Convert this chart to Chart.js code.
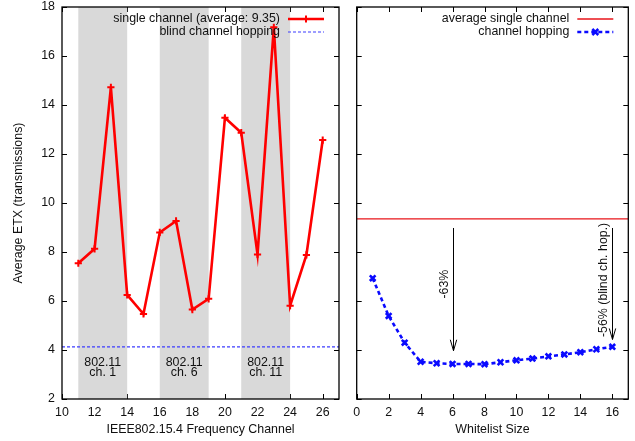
<!DOCTYPE html>
<html><head><meta charset="utf-8">
<script src="https://cdn.jsdelivr.net/npm/chart.js@4.4.0/dist/chart.umd.min.js"></script>
<style>
html,body{margin:0;padding:0;background:#fff;}
#wrap{position:relative;width:635px;height:441px;overflow:hidden;background:#fff;}
canvas{position:absolute;top:0;}
</style></head><body>
<div id="wrap">
<canvas id="c1" width="345" height="441" style="left:0px"></canvas>
<canvas id="c2" width="290" height="441" style="left:345px"></canvas>
</div>
<script>
// ---- data ----
const channels = [11,12,13,14,15,16,17,18,19,20,21,22,23,24,25,26];
const singleChannelEtx = [7.54,8.13,14.72,6.25,5.47,8.80,9.27,5.65,6.09,13.48,12.87,7.90,17.17,5.81,7.88,12.57];
const singleChannelAverage = 9.35;
const blindHoppingEtx = 4.13;
const whitelistSizes = [1,2,3,4,5,6,7,8,9,10,11,12,13,14,15,16];
const hoppingEtx = [6.93,5.39,4.30,3.52,3.46,3.43,3.43,3.42,3.50,3.58,3.65,3.74,3.82,3.91,4.03,4.13];
const leftXTicks = [10,12,14,16,18,20,22,24,26];
const rightXTicks = [0,2,4,6,8,10,12,14,16];
const yTicks = [2,4,6,8,10,12,14,16,18];
const wifiBandStart = [11,16,21];
const wifiBandEnd = [14,19,24];
const wifiLabelTop = ['802.11','802.11','802.11'];
const wifiLabelBottom = ['ch. 1','ch. 6','ch. 11'];
const arrowX = [6,16];
const arrowFrom = [8.98,8.98];
const arrowTo = [3.97,4.43];
const arrowLabels = ['-63%','-56% (blind ch. hop.)'];
const arrowLabelX = [5.53,15.43];
const arrowLabelY = [6.69,6.86];

// ---- styling ----
const FONT_FAMILY = "'Liberation Sans', Arial, Helvetica, sans-serif";
const FSIZE = 12.4;
const FONT = FSIZE + "px " + FONT_FAMILY;
const TXT = '#111';
const TL = 5;
const RED = '#ff0000';
const BLUE = '#0a0aff';
const LBLUE = '#3c3cff';
Chart.defaults.font.family = FONT_FAMILY;
Chart.defaults.font.size = FSIZE;
Chart.defaults.color = TXT;

function fixScale(w, h) {
  return function(s) {
    if (w !== null) s.width = w;
    if (h !== null) s.height = h;
    s.paddingLeft = 0; s.paddingRight = 0; s.paddingTop = 0; s.paddingBottom = 0;
  };
}
function setTicks(arr) {
  return function(s) { s.ticks = arr.map(v => ({value: v})); };
}

function framePlugin(cfg) {
  return {
    id: 'frame',
    beforeDatasetsDraw(chart) {
      const {ctx, chartArea: a, scales: {x, y}} = chart;
      ctx.save();
      ctx.strokeStyle = '#000';
      ctx.lineWidth = 1;
      ctx.beginPath();
      y.ticks.forEach(t => {
        const py = Math.round(y.getPixelForValue(t.value)) + 0.5;
        ctx.moveTo(a.left, py); ctx.lineTo(a.left + TL, py);
        ctx.moveTo(a.right, py); ctx.lineTo(a.right - TL, py);
      });
      x.ticks.forEach(t => {
        const px = Math.round(x.getPixelForValue(t.value)) + 0.5;
        ctx.moveTo(px, a.bottom); ctx.lineTo(px, a.bottom - TL);
        ctx.moveTo(px, a.top); ctx.lineTo(px, a.top + TL);
      });
      ctx.stroke();
      if (cfg.bands) {
        ctx.fillStyle = '#d9d9d9';
        for (let i = 0; i < wifiBandStart.length; i++) {
          const x0 = x.getPixelForValue(wifiBandStart[i]);
          const x1 = x.getPixelForValue(wifiBandEnd[i]);
          ctx.fillRect(x0, a.top, x1 - x0, a.height);
        }
        ctx.fillStyle = TXT;
        ctx.font = FONT;
        ctx.textAlign = 'center';
        ctx.textBaseline = 'middle';
        for (let i = 0; i < wifiBandStart.length; i++) {
          const cx = x.getPixelForValue((wifiBandStart[i] + wifiBandEnd[i]) / 2);
          ctx.fillText(wifiLabelTop[i], cx, y.getPixelForValue(3.48));
          ctx.fillText(wifiLabelBottom[i], cx, y.getPixelForValue(3.09));
        }
      }
      ctx.restore();
    },
    afterDatasetsDraw(chart) {
      const {ctx, chartArea: a, scales: {x, y}} = chart;
      ctx.save();
      if (cfg.arrows) {
        ctx.strokeStyle = '#000';
        ctx.lineWidth = 1;
        for (let i = 0; i < arrowX.length; i++) {
          const px = Math.round(x.getPixelForValue(arrowX[i])) + 0.5;
          const y0 = y.getPixelForValue(arrowFrom[i]);
          const y1 = y.getPixelForValue(arrowTo[i]);
          ctx.beginPath();
          ctx.moveTo(px, y0); ctx.lineTo(px, y1);
          ctx.moveTo(px - 3.2, y1 - 11); ctx.lineTo(px, y1); ctx.lineTo(px + 3.2, y1 - 11);
          ctx.stroke();
          ctx.save();
          ctx.translate(x.getPixelForValue(arrowLabelX[i]), y.getPixelForValue(arrowLabelY[i]));
          ctx.rotate(-Math.PI / 2);
          ctx.fillStyle = TXT;
          ctx.font = FONT;
          ctx.textAlign = 'center';
          ctx.textBaseline = 'middle';
          ctx.fillText(arrowLabels[i], 0, 0);
          ctx.restore();
        }
      }
      ctx.strokeStyle = '#000';
      ctx.lineWidth = 1.3;
      ctx.strokeRect(a.left, a.top, a.width, a.height);
      const sx1 = a.right - 15, sx0 = sx1 - 36, tx = sx0 - 8;
      ctx.font = FONT;
      ctx.textAlign = 'right';
      ctx.textBaseline = 'middle';
      cfg.legend.forEach((item, i) => {
        const ly = a.top + 12 + i * 13;
        ctx.fillStyle = TXT;
        ctx.fillText(item.text, tx, ly);
        ctx.save();
        ctx.strokeStyle = item.color;
        ctx.lineWidth = item.width;
        ctx.setLineDash(item.dash || []);
        ctx.beginPath();
        ctx.moveTo(sx0, ly); ctx.lineTo(sx1, ly);
        ctx.stroke();
        ctx.setLineDash([]);
        const mx = (sx0 + sx1) / 2;
        if (item.marker === 'plus') {
          ctx.lineWidth = 2;
          ctx.beginPath();
          ctx.moveTo(mx - 3.5, ly); ctx.lineTo(mx + 3.5, ly);
          ctx.moveTo(mx, ly - 3.5); ctx.lineTo(mx, ly + 3.5);
          ctx.stroke();
        } else if (item.marker === 'x') {
          ctx.lineWidth = 2.5;
          ctx.beginPath();
          ctx.moveTo(mx - 3, ly - 3); ctx.lineTo(mx + 3, ly + 3);
          ctx.moveTo(mx - 3, ly + 3); ctx.lineTo(mx + 3, ly - 3);
          ctx.stroke();
        }
        ctx.restore();
      });
      ctx.restore();
    }
  };
}

const yScaleBase = {
  type: 'linear', min: 2, max: 18,
  grid: {display: false, drawTicks: false},
  border: {display: false},
  afterBuildTicks: setTicks(yTicks)
};

// ---- left chart ----
new Chart(document.getElementById('c1'), {
  type: 'scatter',
  data: {
    datasets: [
      {
        label: 'single channel (average: 9.35)',
        data: channels.map((c, i) => ({x: c, y: singleChannelEtx[i]})),
        showLine: true, borderColor: RED, backgroundColor: RED, borderWidth: 2.6,
        pointStyle: 'cross', pointRadius: 3.6, pointBorderWidth: 2, pointBorderColor: RED,
        tension: 0
      },
      {
        label: 'blind channel hopping',
        data: [{x: 10, y: blindHoppingEtx}, {x: 27, y: blindHoppingEtx}],
        showLine: true, borderColor: LBLUE, borderWidth: 1.2, borderDash: [3, 2],
        pointRadius: 0
      }
    ]
  },
  options: {
    responsive: false, animation: false, devicePixelRatio: 1,
    layout: {padding: {top: 7, right: 3.5, left: 0, bottom: 0}},
    plugins: {legend: {display: false}, tooltip: {enabled: false}},
    scales: {
      x: {
        type: 'linear', min: 10, max: 27,
        grid: {display: false, drawTicks: false}, border: {display: false},
        ticks: {padding: 6, maxRotation: 0, autoSkip: false, color: TXT},
        afterBuildTicks: setTicks(leftXTicks),
        afterFit: fixScale(null, 42),
        title: {display: true, text: 'IEEE802.15.4 Frequency Channel', color: TXT, padding: {top: 0, bottom: 4}}
      },
      y: Object.assign({}, yScaleBase, {
        ticks: {padding: 7, color: TXT},
        afterFit: fixScale(62, null),
        title: {display: true, text: 'Average ETX (transmissions)', color: TXT, padding: {top: 11, bottom: 0}}
      })
    }
  },
  plugins: [framePlugin({
    bands: true,
    legend: [
      {text: 'single channel (average: 9.35)', color: RED, width: 2.6, marker: 'plus'},
      {text: 'blind channel hopping', color: LBLUE, width: 1.2, dash: [3, 2]}
    ]
  })]
});

// ---- right chart ----
new Chart(document.getElementById('c2'), {
  type: 'scatter',
  data: {
    datasets: [
      {
        label: 'average single channel',
        data: [{x: 0, y: singleChannelAverage}, {x: 17, y: singleChannelAverage}],
        showLine: true, borderColor: '#e8141a', borderWidth: 1.3, pointRadius: 0
      },
      {
        label: 'channel hopping',
        data: whitelistSizes.map((w, i) => ({x: w, y: hoppingEtx[i]})),
        showLine: true, borderColor: BLUE, backgroundColor: BLUE, borderWidth: 2.6, borderDash: [4, 3],
        pointStyle: 'crossRot', pointRadius: 4, pointBorderWidth: 2.6, pointBorderColor: BLUE,
        tension: 0
      }
    ]
  },
  options: {
    responsive: false, animation: false, devicePixelRatio: 1,
    layout: {padding: {top: 7, right: 6.7, left: 0, bottom: 0}},
    plugins: {legend: {display: false}, tooltip: {enabled: false}},
    scales: {
      x: {
        type: 'linear', min: 0, max: 17,
        grid: {display: false, drawTicks: false}, border: {display: false},
        ticks: {padding: 6, maxRotation: 0, autoSkip: false, color: TXT},
        afterBuildTicks: setTicks(rightXTicks),
        afterFit: fixScale(null, 42),
        title: {display: true, text: 'Whitelist Size', color: TXT, padding: {top: 0, bottom: 4}}
      },
      y: Object.assign({}, yScaleBase, {
        ticks: {display: false},
        afterFit: fixScale(11.7, null)
      })
    }
  },
  plugins: [framePlugin({
    arrows: true,
    legend: [
      {text: 'average single channel', color: '#e8141a', width: 1.3},
      {text: 'channel hopping', color: BLUE, width: 2.6, dash: [4, 3], marker: 'x'}
    ]
  })]
});
</script>
</body></html>
